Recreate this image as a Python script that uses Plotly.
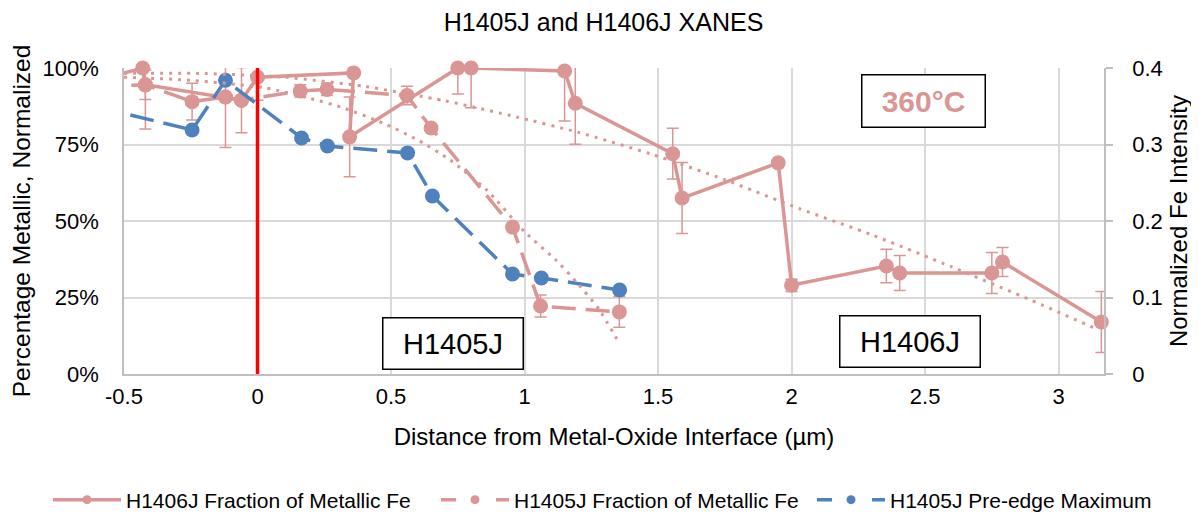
import plotly.graph_objects as go

PINK = "#DA9694"
BLUE = "#4F81BD"
X_MIN, X_MAX = -0.5, 3.17

# ---- H1406J Fraction of Metallic Fe (solid, %), first point lies left of the axis range
h1406_x = [-0.60, -0.43, -0.42, -0.12, -0.06, 0.00, 0.36, 0.345, 0.75, 0.80, 1.15, 1.19,
           1.555, 1.59, 1.95, 2.00, 2.355, 2.405, 2.75, 2.79, 3.16]
h1406_y = [96.0, 100.0, 94.5, 90.5, 89.5, 97.0, 98.4, 77.5, 100.0, 100.0, 99.0, 88.5,
           72.0, 57.5, 69.0, 29.0, 35.3, 33.0, 33.0, 36.6, 17.0]
h1406_err_up = [0, 0, 5.5, 10.5, 10.7, 0, 0, 13.0, 0, 0, 1.0, 12.4,
                8.3, 11.6, 0, 2.0, 5.5, 5.7, 6.7, 4.7, 10.0]
h1406_err_down = [0, 0, 14.4, 16.5, 10.7, 7.5, 0, 13.0, 8.5, 13.0, 16.3, 13.4,
                  8.3, 11.6, 0, 2.0, 5.5, 5.7, 6.7, 4.7, 10.0]

# ---- H1405J Fraction of Metallic Fe (dashed, %)
h1405_x = [-0.60, -0.42, -0.245, -0.12, -0.06, 0.16, 0.26, 0.56, 0.65, 0.955, 1.06, 1.355]
h1405_y = [94.0, 94.5, 89.0, 90.5, 89.5, 92.5, 93.0, 91.0, 80.4, 48.0, 22.2, 20.3]
h1405_err_up = [0, 4.8, 6.0, 0, 0, 2.0, 2.0, 3.0, 0, 0, 3.6, 5.0]
h1405_err_down = [0, 4.8, 6.0, 0, 0, 2.0, 2.0, 3.0, 0, 0, 3.6, 5.0]

# ---- H1405J Pre-edge Maximum (dashed blue, secondary axis)
pre_x = [-0.60, -0.245, -0.12, 0.165, 0.262, 0.562, 0.655, 0.955, 1.063, 1.356]
pre_y = [0.349, 0.319, 0.384, 0.3085, 0.298, 0.289, 0.2327, 0.1307, 0.1255, 0.1098]

# ---- dotted trend lines
trend1406_x = [-0.5, -0.2, 0.1, 0.4, 0.7, 0.97, 1.2, 1.47, 1.75, 2.03, 2.3, 2.6, 2.9, 3.15]
trend1406_y = [98.3, 98.2, 97.0, 94.0, 89.3, 84.0, 79.0, 72.0, 63.5, 54.0, 45.5, 35.0, 24.0, 14.4]
trend1405_x = [-0.5, -0.25, 0.03, 0.2, 0.32, 0.47, 0.6, 0.72, 0.86, 1.0, 1.12, 1.2, 1.28, 1.355]
trend1405_y = [97.0, 96.0, 93.5, 90.0, 87.0, 82.0, 76.5, 70.0, 60.0, 46.5, 37.0, 29.5, 21.0, 10.0]

# ---- axis ticks
x_ticks = [-0.5, 0, 0.5, 1, 1.5, 2, 2.5, 3]
x_ticklabels = ["-0.5", "0", "0.5", "1", "1.5", "2", "2.5", "3"]
y_ticks = [0, 25, 50, 75, 100]
y_ticklabels = ["0%", "25%", "50%", "75%", "100%"]
y2_ticks = [0, 0.1, 0.2, 0.3, 0.4]
y2_ticklabels = ["0", "0.1", "0.2", "0.3", "0.4"]

names = ["H1406J Fraction of Metallic Fe", "H1405J Fraction of Metallic Fe",
         "H1405J Pre-edge Maximum"]

DASH = "24px,10px"
LEG_DASH = "15px,40px,15px"
MS = 15

# the page body adds an 8px offset; the figure is sized to fill the rest of the window
W, H = 1191, 511


def sizes(xs):
    return [0 if v < X_MIN else MS for v in xs]


def mk(col, xs):
    return dict(color=col, size=sizes(xs), opacity=1, line=dict(width=0))


fig = go.Figure()

fig.add_trace(go.Scatter(
    x=h1406_x, y=h1406_y, mode="lines+markers", showlegend=False, cliponaxis=False,
    line=dict(color=PINK, width=3.5), marker=mk(PINK, h1406_x),
    error_y=dict(type="data", symmetric=False, array=h1406_err_up,
                 arrayminus=h1406_err_down, color=PINK, thickness=1.5, width=6),
    yaxis="y"))

fig.add_trace(go.Scatter(
    x=h1405_x, y=h1405_y, mode="lines+markers", showlegend=False, cliponaxis=False,
    line=dict(color=PINK, width=3.5, dash=DASH), marker=mk(PINK, h1405_x),
    error_y=dict(type="data", symmetric=False, array=h1405_err_up,
                 arrayminus=h1405_err_down, color=PINK, thickness=1.5, width=6),
    yaxis="y"))

fig.add_trace(go.Scatter(
    x=pre_x, y=pre_y, mode="lines+markers", showlegend=False, cliponaxis=False,
    line=dict(color=BLUE, width=3.5, dash=DASH), marker=mk(BLUE, pre_x),
    yaxis="y2"))

for tx, ty in [(trend1406_x, trend1406_y), (trend1405_x, trend1405_y)]:
    fig.add_trace(go.Scatter(
        x=tx, y=ty, mode="lines", showlegend=False, hoverinfo="skip",
        line=dict(color=PINK, width=3, dash="3px,6px", shape="spline", smoothing=0.6),
        yaxis="y3"))

# legend entries: one small legend per entry so the row never wraps
legend_ids = ["legend", "legend2", "legend3"]
legend_left_px = [48, 436, 812]          # page x of each legend's left edge
for nm, col, dsh, lid in [(names[0], PINK, "solid", legend_ids[0]),
                          (names[1], PINK, LEG_DASH, legend_ids[1]),
                          (names[2], BLUE, LEG_DASH, legend_ids[2])]:
    fig.add_trace(go.Scatter(
        x=[None], y=[None], mode="lines+markers", name=nm, legend=lid,
        line=dict(color=col, width=3.5, dash=dsh),
        marker=dict(color=col, size=9), yaxis="y"))

fig.add_shape(type="line", xref="x", yref="paper", x0=0, x1=0, y0=0, y1=1,
              line=dict(color="#FF0000", width=3.5), layer="above")

box_font = "Liberation Sans, Arial, sans-serif"
fig.add_annotation(xref="paper", yref="paper", x=0.8158, y=0.892, text="<b>360°C</b>",
                   showarrow=False, font=dict(size=30, color=PINK, family=box_font),
                   bordercolor="#000", borderwidth=1.5, borderpad=0, width=122, height=51,
                   bgcolor="white", xanchor="center", yanchor="middle")
fig.add_annotation(xref="paper", yref="paper", x=0.3357, y=0.0997, text="H1405J",
                   showarrow=False, font=dict(size=29, color="#000", family=box_font),
                   bordercolor="#000", borderwidth=1.5, borderpad=0, width=139, height=50,
                   bgcolor="white", xanchor="center", yanchor="middle")
fig.add_annotation(xref="paper", yref="paper", x=0.802, y=0.106, text="H1406J",
                   showarrow=False, font=dict(size=29, color="#000", family=box_font),
                   bordercolor="#000", borderwidth=1.5, borderpad=0, width=139, height=50,
                   bgcolor="white", xanchor="center", yanchor="middle")

GRID = "#d9d9d9"
AXL = "#bfbfbf"
legend_common = dict(orientation="h", yanchor="middle", y=(366 - 492) / 306,
                     xanchor="left", font=dict(size=21), itemwidth=68,
                     bgcolor="rgba(0,0,0,0)")
legends = {lid: dict(legend_common, x=(px - 124) / 980)
           for lid, px in zip(legend_ids, legend_left_px)}

fig.update_layout(
    width=W, height=H,
    margin=dict(l=116, r=95, t=60, b=145, autoexpand=False),
    paper_bgcolor="white", plot_bgcolor="white",
    font=dict(family="Liberation Sans, Arial, sans-serif", size=22, color="#000"),
    title=dict(text="H1405J and H1406J XANES", x=0.5, xanchor="center",
               y=1, yanchor="top", pad=dict(t=5), font=dict(size=25)),
    xaxis=dict(range=[X_MIN, X_MAX], tickvals=x_ticks, ticktext=x_ticklabels,
               showgrid=True, gridcolor=GRID, gridwidth=1.5, zeroline=False,
               showline=True, linecolor=AXL, linewidth=1.5, ticks="",
               ticklabelstandoff=2, automargin=False,
               title=dict(text="Distance from Metal-Oxide Interface (µm)", standoff=20,
                          font=dict(size=24))),
    yaxis=dict(range=[0, 100], tickvals=y_ticks, ticktext=y_ticklabels,
               showgrid=True, gridcolor=GRID, gridwidth=1.5, zeroline=False,
               showline=True, linecolor=AXL, linewidth=1.5, ticks="",
               ticklabelstandoff=19, automargin=False,
               title=dict(text="Percentage Metallic, Normalized", standoff=11,
                          font=dict(size=24.5))),
    yaxis2=dict(range=[0, 0.4], tickvals=y2_ticks, ticktext=y2_ticklabels,
                overlaying="y", side="right", showgrid=False, zeroline=False,
                showline=True, linecolor=AXL, linewidth=1.5, ticks="outside",
                ticklen=7, tickcolor=AXL, tickwidth=1.5, ticklabelstandoff=15,
                automargin=False,
                title=dict(text="Normalized Fe Intensity", standoff=8, font=dict(size=24))),
    yaxis3=dict(range=[0, 100], overlaying="y", visible=False),
    **legends,
)

fig.write_html("out.html")
